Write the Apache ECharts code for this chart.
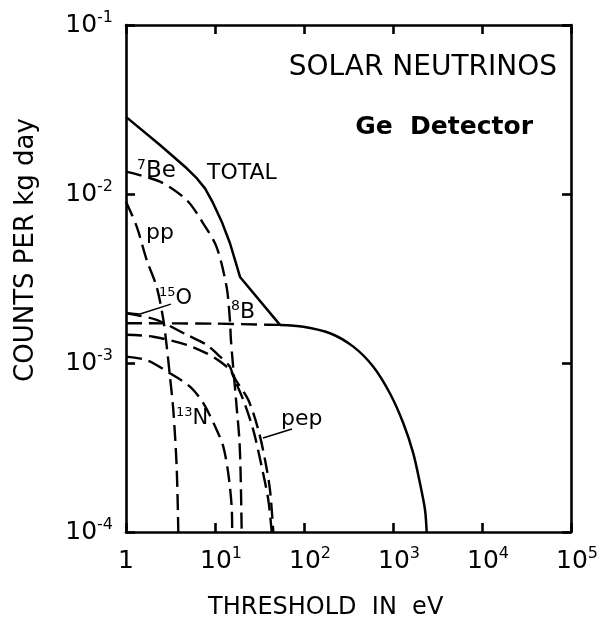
<!DOCTYPE html>
<html>
<head>
<meta charset="utf-8">
<script src="https://cdn.jsdelivr.net/npm/echarts@6/dist/echarts.min.js"></script>
<style>
  html, body { margin: 0; padding: 0; background: #fff; }
  #chart { width: 602px; height: 619px; }
</style>
</head>
<body>
<div id="chart"></div>
<script>
// threshold (eV) vs counts per kg day
const totalHeadPts = [[1, 0.0286], [2.41, 0.0195], [4.81, 0.0142], [6.23, 0.0124], [7.72, 0.0108], [9.5, 0.00885],
  [11.9, 0.00686], [14.7, 0.00513], [16.8, 0.00406], [19.1, 0.00323], [53.7, 0.00168]]
const totalTailPts = [[53.7, 0.00168], [98, 0.00164], [196, 0.0015], [358, 0.00125], [601, 0.00095], [925, 0.00066],
  [1306, 0.00044], [1690, 0.000292], [2010, 0.000194], [2290, 0.000135], [2390, 0.0001]]
const be7Pts = [[1, 0.01355], [2.41, 0.01183], [4.81, 0.0092], [7.33, 0.00673], [10.4, 0.00487], [13.5, 0.00282],
  [14.7, 0.0018], [15.1, 0.00137], [16.1, 0.00091], [17.5, 0.00055], [18.8, 0.00035], [19.4, 0.000222], [19.95, 0.0001]]
const ppPts = [[1, 0.009], [1.32, 0.00641], [1.71, 0.00406], [2.21, 0.00282], [2.63, 0.0018], [2.87, 0.00125],
  [3.12, 0.00083], [3.4, 0.000527], [3.71, 0.000243], [3.87, 0.0001]]
const b8Pts = [[1, 0.00172], [10, 0.00171], [30, 0.00169], [53.7, 0.00168]]
const o15Pts = [[1, 0.00197], [1.32, 0.00192], [2.21, 0.0018], [4.81, 0.00147], [8.07, 0.00128], [11.4, 0.00109],
  [14.7, 0.00095], [16.1, 0.00083], [20.8, 0.000604], [26.9, 0.000402], [33.5, 0.000243], [39.7, 0.000155], [43.4, 0.0001]]
const pepPts = [[1, 0.00147], [2.03, 0.00143], [4.81, 0.00128], [8.07, 0.00114], [11.4, 0.00102], [14.7, 0.00091],
  [17.2, 0.00079], [23.7, 0.000604], [30.7, 0.000402], [36.5, 0.000267], [41.5, 0.000177], [45.2, 0.0001]]
const n13Pts = [[1, 0.00109], [1.71, 0.00104], [3.12, 0.00087], [5.24, 0.000724], [7.39, 0.000578], [10.45, 0.000402],
  [12.4, 0.00032], [14.1, 0.000222], [15.4, 0.000141], [15.6, 0.0001]]
// leader lines from labels to curves
const o15Leader = [[1, 0.00198], [1.44, 0.00195], [3.2, 0.00223]]
const pepLeader = [[34.6, 0.00036], [73.3, 0.000407]]
// tick exponents
const xExponents = [0, 1, 2, 3, 4, 5]
const yExponents = [-4, -3, -2, -1]

const FONT = 'DejaVu Sans'
const ink = '#000'

const chart = echarts.init(document.getElementById('chart'))

function dashed(name, data) {
  return {
    name: name, type: 'line', data: data, showSymbol: false, smooth: 0.3,
    lineStyle: { color: ink, width: 2.4, type: [16, 7] }, silent: true, z: 2
  }
}
function solid(name, data, w, smooth) {
  return {
    name: name, type: 'line', data: data, showSymbol: false, smooth: smooth || false,
    lineStyle: { color: ink, width: w, type: 'solid' }, silent: true, z: 3
  }
}

const supRich = {
  b: { fontFamily: FONT, fontSize: 25, color: ink, lineHeight: 30 },
  s: { fontFamily: FONT, fontSize: 16, color: ink, verticalAlign: 'top', lineHeight: 16 },
  p: { fontFamily: FONT, fontSize: 25, color: ink, lineHeight: 30, padding: [0, 0, 0, 12] }
}

function label(x, y, sup, main, size) {
  return {
    type: 'text', x: x, y: y,
    style: {
      text: (sup ? '{s|' + sup + '}' : '') + '{b|' + main + '}',
      rich: {
        s: { fontFamily: FONT, fontSize: Math.round(size * 0.62), fill: ink, verticalAlign: 'top' },
        b: { fontFamily: FONT, fontSize: size, fill: ink, lineHeight: size + 4 }
      },
      verticalAlign: 'top'
    }
  }
}

const frameAxis = {
  axisLine: { lineStyle: { color: ink, width: 2.6 } },
  axisTick: { inside: true, length: 9, lineStyle: { color: ink, width: 2.6 } },
  splitLine: { show: false }
}

chart.setOption({
  animation: false,
  backgroundColor: '#fff',
  grid: { left: 126, right: 31, top: 25, bottom: 87 },
  xAxis: [Object.assign({
    type: 'log', logBase: 10, min: 1, max: 1e5,
    axisLabel: {
      margin: 14,
      formatter: function (v) {
        const e = Math.round(Math.log10(v))
        if (xExponents.indexOf(e) < 0) return ''
        return e === 0 ? '{b|1}' : '{p|10}{s|' + e + '}'
      },
      rich: supRich
    }
  }, frameAxis), Object.assign({
    type: 'log', logBase: 10, min: 1, max: 1e5, position: 'top',
    axisLabel: { show: false }
  }, frameAxis)],
  yAxis: [Object.assign({
    type: 'log', logBase: 10, min: 1e-4, max: 1e-1,
    axisLabel: {
      margin: 13,
      formatter: function (v) {
        const e = Math.round(Math.log10(v))
        if (yExponents.indexOf(e) < 0) return ''
        return '{b|10}{s|' + e + '}'
      },
      rich: supRich
    }
  }, frameAxis), Object.assign({
    type: 'log', logBase: 10, min: 1e-4, max: 1e-1, position: 'right',
    axisLabel: { show: false }
  }, frameAxis)],
  series: [
    dashed('pp', ppPts),
    dashed('7Be', be7Pts),
    dashed('8B', b8Pts),
    dashed('15O', o15Pts),
    dashed('pep', pepPts),
    dashed('13N', n13Pts),
    solid('TOTAL', totalHeadPts, 2.5),
    solid('TOTAL', totalTailPts, 2.5, 0.3),
    solid('15O leader', o15Leader, 1.5),
    solid('pep leader', pepLeader, 1.5)
  ],
  graphic: [
    { type: 'text', x: 557, y: 68, style: { text: 'SOLAR NEUTRINOS', font: '28px "' + FONT + '"', fill: ink, align: 'right', verticalAlign: 'middle' } },
    { type: 'text', x: 533, y: 127, style: { text: 'Ge  Detector', font: 'bold 25px "' + FONT + '"', fill: ink, align: 'right', verticalAlign: 'middle' } },
    { type: 'text', x: 208, y: 608, style: { text: 'THRESHOLD  IN  eV', font: '24px "' + FONT + '"', fill: ink, align: 'left', verticalAlign: 'middle' } },
    { type: 'text', x: 26, y: 250, rotation: Math.PI / 2, style: { text: 'COUNTS PER kg day', font: '26px "' + FONT + '"', fill: ink, align: 'center', verticalAlign: 'middle' } },
    { type: 'text', x: 207, y: 162, style: { text: 'TOTAL', font: '22px "' + FONT + '"', fill: ink, verticalAlign: 'top' } },
    { type: 'text', x: 146, y: 222, style: { text: 'pp', font: '22px "' + FONT + '"', fill: ink, verticalAlign: 'top' } },
    { type: 'text', x: 281, y: 408, style: { text: 'pep', font: '22px "' + FONT + '"', fill: ink, verticalAlign: 'top' } },
    label(137, 158, '7', 'Be', 23),
    label(159, 286, '15', 'O', 21),
    label(231, 299, '8', 'B', 22),
    label(176, 406, '13', 'N', 21)
  ]
})
</script>
</body>
</html>
